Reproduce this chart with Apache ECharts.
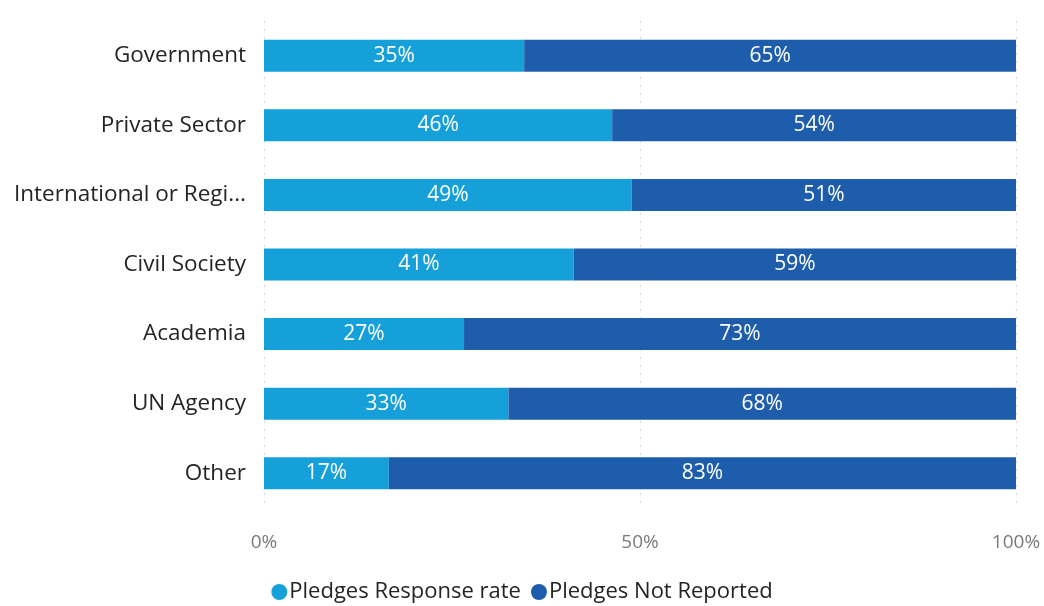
<!DOCTYPE html>
<html>
<head>
<meta charset="utf-8">
<script src="https://cdn.jsdelivr.net/npm/echarts@6/dist/echarts.min.js"></script>
<style>
  html, body { margin: 0; padding: 0; background: #fff; }
  #main { width: 1044px; height: 606px; }
</style>
</head>
<body>
<div id="main"></div>
<script>
// 类目 / 数据
var categories = ['Government', 'Private Sector', 'International or Regi...', 'Civil Society', 'Academia', 'UN Agency', 'Other'];
var responseRate = [34.6, 46.3, 48.9, 41.2, 26.6, 32.5, 16.6];
var notReported = [65.4, 53.7, 51.1, 58.8, 73.4, 67.5, 83.4];
var xTicks = [0, 50, 100];

var font = '"Open Sans", "Noto Sans", sans-serif';
var myChart = echarts.init(document.getElementById('main'));

var barLabel = {
    show: true,
    position: 'inside',
    color: '#fff',
    fontSize: 21,
    fontFamily: font,
    formatter: function (p) { return Math.round(p.value) + '%'; }
};

var option = {
    animation: false,
    textStyle: { fontFamily: font },
    grid: { left: 264, right: 28, top: 21, bottom: 98, containLabel: false },
    legend: {
        top: 576,
        left: 'center',
        icon: 'circle',
        itemWidth: 16,
        itemHeight: 16,
        itemGap: 10,
        textStyle: { fontSize: 22, color: '#252423', fontFamily: font, padding: [0, 0, 0, -3] },
        data: ['Pledges Response rate', 'Pledges Not Reported']
    },
    xAxis: {
        type: 'value',
        min: xTicks[0],
        max: xTicks[xTicks.length - 1],
        interval: 50,
        axisLine: { show: false },
        axisTick: { show: false },
        axisLabel: {
            color: '#7a7a7a',
            fontSize: 19,
            margin: 25,
            formatter: '{value}%'
        },
        splitLine: { show: true, lineStyle: { color: '#d8d8d8', type: [2, 6], width: 1 } }
    },
    yAxis: {
        type: 'category',
        inverse: true,
        data: categories,
        axisLine: { show: false },
        axisTick: { show: false },
        axisLabel: { color: '#252423', fontSize: 22.5, margin: 18 }
    },
    series: [
        {
            name: 'Pledges Response rate',
            type: 'bar',
            stack: 'total',
            barWidth: '46%',
            itemStyle: { color: '#16a0d9' },
            label: barLabel,
            data: responseRate
        },
        {
            name: 'Pledges Not Reported',
            type: 'bar',
            stack: 'total',
            barWidth: '46%',
            itemStyle: { color: '#1e5dab' },
            label: barLabel,
            data: notReported
        }
    ]
};
myChart.setOption(option);
</script>
</body>
</html>
